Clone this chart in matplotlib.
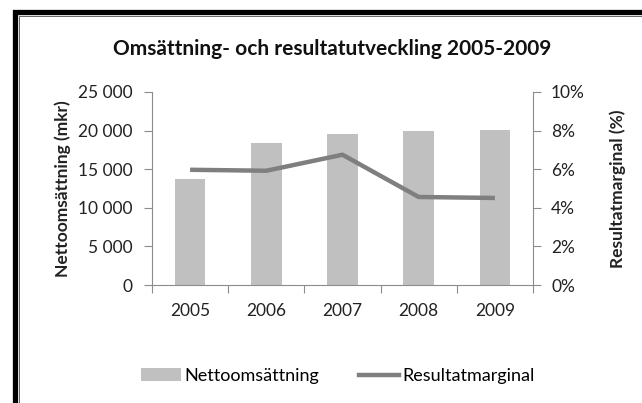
import matplotlib
import matplotlib.pyplot as plt
from matplotlib.lines import Line2D
from matplotlib.patches import Patch, Rectangle
from matplotlib.ticker import FuncFormatter, FixedLocator, NullFormatter
import numpy as np

matplotlib.use("Agg")
plt.rcParams["font.family"] = ["Lato", "DejaVu Sans"]

years = ["2005", "2006", "2007", "2008", "2009"]
netto = [13770, 18430, 19600, 19900, 20030]  # mkr
marginal = [5.97, 5.92, 6.75, 4.56, 4.51]  # %

BAR = "#c0c0c0"
LINE = "#7f7f7f"
AXIS = "#8c8c8c"
TXT = "#222222"

fig = plt.figure(figsize=(6.42, 4.03), dpi=100)
ax = fig.add_axes([152 / 642, 1 - 285 / 403, 381 / 642, 193 / 403])
ax2 = ax.twinx()

x = np.arange(len(years))
ax.bar(x, netto, width=0.4, color=BAR, zorder=2)
ax2.plot(x, marginal, color=LINE, linewidth=3.2, solid_capstyle="butt", zorder=3)

ax.set_xlim(-0.5, len(years) - 0.5)
ax.set_ylim(0, 25000)
ax2.set_ylim(0, 10)
ax.set_yticks(range(0, 25001, 5000))
ax2.set_yticks(range(0, 11, 2))
ax.yaxis.set_major_formatter(FuncFormatter(lambda v, p: f"{int(v):,}".replace(",", " ")))
ax2.yaxis.set_major_formatter(FuncFormatter(lambda v, p: f"{int(v)}%"))

# category labels centred, ticks on the boundaries
ax.set_xticks(x)
ax.set_xticklabels(years)
ax.tick_params(axis="x", length=0, pad=13, labelsize=12.5, labelcolor=TXT)
ax.xaxis.set_minor_locator(FixedLocator(np.arange(-0.5, len(years), 1.0)))
ax.xaxis.set_minor_formatter(NullFormatter())
ax.tick_params(axis="x", which="minor", length=6, color=AXIS, width=0.8)

ax.tick_params(axis="y", length=6, color=AXIS, width=0.8, labelsize=12.5, labelcolor=TXT, pad=8)
ax2.tick_params(axis="y", length=6, color=AXIS, width=0.8, labelsize=12.5, labelcolor=TXT, pad=7)

for a in (ax, ax2):
    for s in a.spines.values():
        s.set_visible(False)
ax.spines["left"].set_visible(True)
ax.spines["bottom"].set_visible(True)
ax2.spines["right"].set_visible(True)
for a, side in ((ax, "left"), (ax, "bottom"), (ax2, "right")):
    a.spines[side].set_color(AXIS)
    a.spines[side].set_linewidth(0.8)

ax.set_ylabel("Nettoomsättning (mkr)", fontsize=12.5, fontweight="bold", color=TXT, labelpad=5)
ax2.set_ylabel("Resultatmarginal (%)", fontsize=12.5, fontweight="bold", color=TXT, labelpad=18)

fig.text(332 / 642, 1 - 49 / 403, "Omsättning- och resultatutveckling 2005-2009",
         ha="center", va="center", fontsize=15, fontweight="bold", color="#111111")

handles = [Patch(facecolor=BAR, edgecolor="none"),
           Line2D([0], [0], color=LINE, linewidth=3.2)]
fig.legend(handles, ["Nettoomsättning", "Resultatmarginal"], loc="center",
           bbox_to_anchor=(338 / 642, 1 - 376 / 403), ncol=2, frameon=False,
           fontsize=13, handlelength=2.2, handletextpad=0.2, columnspacing=2.2)

# black frame on top and left
fig.add_artist(Rectangle((14.5 / 642, -0.1), 1.2, 1 - 11.5 / 403 + 0.1, transform=fig.transFigure,
                         fill=False, edgecolor="black", linewidth=3.8))
fig.add_artist(Rectangle((19 / 642, -0.1), 1.2, 1 - 16 / 403 + 0.1, transform=fig.transFigure,
                         fill=False, edgecolor="#666666", linewidth=0.7))

fig.savefig("out.png", dpi=100, facecolor="white")
